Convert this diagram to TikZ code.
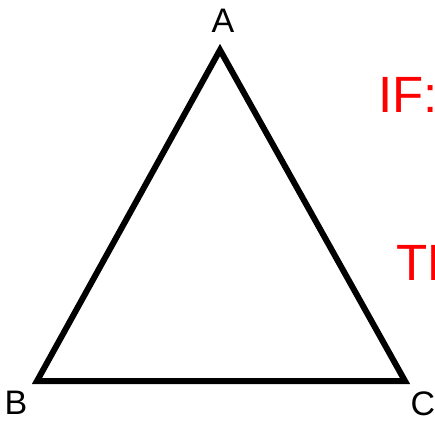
\documentclass[tikz,border=0pt]{standalone}
\usepackage{fontspec}
\setmainfont{Liberation Sans}
\usetikzlibrary{positioning}
\definecolor{trInk}{HTML}{000000}
\definecolor{trRed}{HTML}{FF0000}
\tikzset{
  trEdge/.style={draw=trInk,line width=6pt,line join=miter},
  trVertex/.style={font=\fontsize{34}{38}\selectfont,text=trInk,inner sep=0pt},
  trRule/.style={font=\fontsize{51}{58}\selectfont,text=trRed,inner sep=0pt,anchor=base west}
}
\begin{document}
\begin{tikzpicture}[x=1pt,y=-1pt]
\path[use as bounding box] (0,0) rectangle (435,422);
\clip (0,0) rectangle (435,422);
\coordinate (a) at (220,50);
\coordinate (b) at (37,381);
\coordinate (c) at (405,381);
\draw[trEdge] (a) -- (b) -- (c) -- cycle;
\node[trVertex] (la) at (223,21) {A};
\node[trVertex] (lb) at (16,403) {B};
\node[trVertex] (lc) at (423,404) {C};
\node[trRule] (rif) at (378,113) {IF:};
\node[trRule] (rthen) at (396,280) {TH};
\end{tikzpicture}
\end{document}
